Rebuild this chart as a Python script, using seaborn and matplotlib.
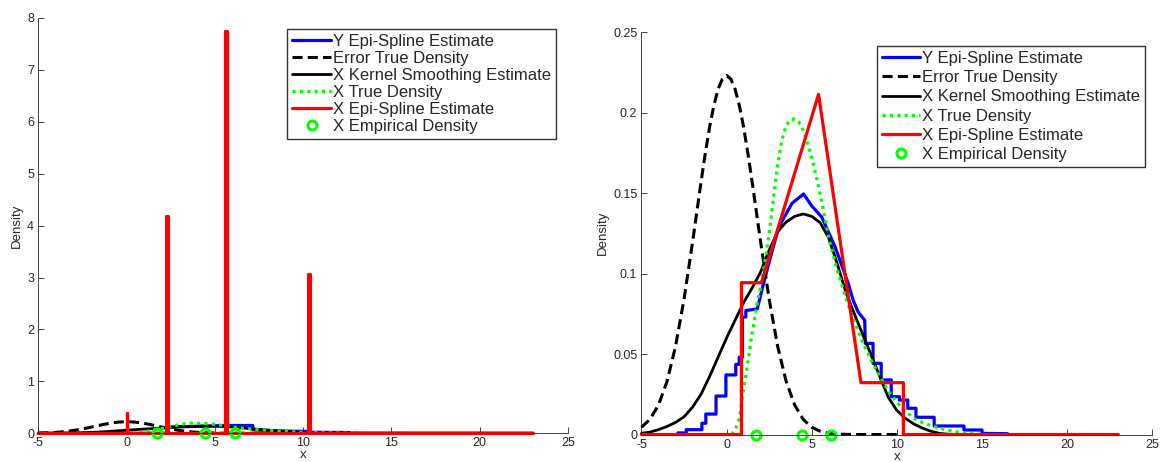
import numpy as np
import pandas as pd
import matplotlib
matplotlib.use("Agg")
import matplotlib.pyplot as plt
import seaborn as sns

# ---------------- data ----------------
x_ticks = [-5, 0, 5, 10, 15, 20, 25]
left_yticks = [0, 1, 2, 3, 4, 5, 6, 7, 8]
right_yticks = [0, 0.05, 0.1, 0.15, 0.2, 0.25]
right_ytick_labels = ["0", "0.05", "0.1", "0.15", "0.2", "0.25"]

labels = ["Y Epi-Spline Estimate", "Error True Density", "X Kernel Smoothing Estimate",
          "X True Density", "X Epi-Spline Estimate", "X Empirical Density"]

# Error true density (dashed black)
err_x = [-5, -4.5, -4, -3.5, -3, -2.5, -2, -1.5, -1.25, -1, -0.75, -0.5, -0.25, 0,
         0.25, 0.5, 0.75, 1, 1.25, 1.5, 2, 2.5, 3, 3.5, 4, 4.5, 5, 5.5, 6, 6.5, 7, 7.5,
         8, 8.5, 9, 9.5, 10]
err_y = [0.0045, 0.0094, 0.0183, 0.0329, 0.0547, 0.0840, 0.1194, 0.1569, 0.1747, 0.1908,
         0.2043, 0.2145, 0.2208, 0.2230, 0.2208, 0.2145, 0.2043, 0.1908, 0.1747, 0.1569,
         0.1194, 0.0840, 0.0547, 0.0329, 0.0183, 0.0094, 0.0045, 0.0020, 0.0008, 0.0003,
         0.0001, 0.0, 0.0, 0.0, 0.0, 0.0, 0.0]

# X kernel smoothing estimate (solid black)
ker_x = [-5, -4.5, -4, -3.5, -3, -2.5, -2, -1.5, -1, -0.5, 0, 0.5, 1, 1.5, 2, 2.5, 3, 3.5,
         4, 4.5, 5, 5.5, 6, 6.5, 7, 7.5, 8, 8.5, 9, 9.5, 10, 10.5, 11, 11.5, 12, 12.5, 13,
         13.5]
ker_y = [0.0007, 0.0015, 0.003, 0.005, 0.0075, 0.011, 0.017, 0.025, 0.036, 0.048, 0.060,
         0.071, 0.082, 0.091, 0.101, 0.1145, 0.126, 0.132, 0.1355, 0.137, 0.1355, 0.1315,
         0.122, 0.106, 0.0885, 0.075, 0.062, 0.049, 0.036, 0.023, 0.015, 0.010, 0.0065,
         0.004, 0.002, 0.0007, 0.0002, 0.0]

# X true density (green dotted)
tru_x = [0.3, 0.5, 0.75, 1.0, 1.25, 1.5, 1.75, 2.0, 2.25, 2.5, 2.75, 3.0, 3.25, 3.5, 3.75,
         4.0, 4.25, 4.5, 4.75, 5.0, 5.25, 5.5, 5.75, 6.0, 6.5, 7.0, 7.5, 8.0, 8.5, 9.0, 9.5,
         10.0, 10.5, 11.0, 11.5, 12.0, 12.5, 13.0, 13.5, 14.0, 14.5, 15.0]
tru_y = [0.0, 0.003, 0.010, 0.028, 0.045, 0.063, 0.079, 0.092, 0.107, 0.125, 0.147, 0.168,
         0.183, 0.192, 0.1955, 0.196, 0.194, 0.189, 0.181, 0.172, 0.161, 0.149, 0.136,
         0.122, 0.102, 0.085, 0.070, 0.057, 0.046, 0.036, 0.027, 0.020, 0.0145, 0.010,
         0.0075, 0.0055, 0.004, 0.0027, 0.0017, 0.0009, 0.0003, 0.0]

# Y epi-spline estimate, right panel (blue, stepped)
ye_x = [-2.86, -2.37, -2.37, -1.45, -1.45, -1.22, -1.22, -0.62, -0.62, -0.04, -0.04, 0.54,
        0.54, 0.74, 0.74, 0.93, 0.93, 1.13, 1.13, 1.80, 2.15, 2.6, 3.07, 3.84, 4.52, 5.0,
        5.59, 6.37, 7.14, 7.43, 7.73, 8.11, 8.15, 8.60, 8.60, 9.08, 9.08, 9.67, 9.67, 10.15,
        10.15, 10.64, 10.64, 11.12, 11.12, 12.19, 12.19, 13.94, 13.94, 15.0, 15.0, 16.5]
ye_y = [0.001, 0.001, 0.003, 0.003, 0.007, 0.007, 0.0127, 0.0127, 0.0239, 0.0239, 0.037,
        0.037, 0.0436, 0.0436, 0.048, 0.048, 0.073, 0.073, 0.077, 0.078, 0.093, 0.111, 0.129,
        0.1436, 0.1494, 0.142, 0.135, 0.1166, 0.094, 0.0835, 0.076, 0.071, 0.0566, 0.0566,
        0.0442, 0.0442, 0.0339, 0.0339, 0.0235, 0.0235, 0.0214, 0.0214, 0.0163, 0.0163,
        0.0107, 0.0107, 0.0053, 0.0053, 0.0028, 0.0028, 0.0007, 0.0005]

# Y epi-spline estimate, left panel (blue)
yl_x = [-5, 2.35, 2.35, 4.0, 5.5, 7.15, 7.15, 8.0, 10.4, 10.4, 12.6, 12.6, 23]
yl_y = [0, 0, 0.12, 0.135, 0.15, 0.15, 0.07, 0.05, 0.035, 0.02, 0.015, 0.005, 0.003]

# X epi-spline estimate, right panel (red)
xr_x = [-5, 0.87, 0.87, 2.05, 5.40, 7.89, 10.38, 10.38, 23]
xr_y = [0, 0, 0.0943, 0.0943, 0.2113, 0.0322, 0.0322, 0, 0]

# X epi-spline estimate, left panel (red spikes)
xl_x = [-5, 0.0, 0.0, 0.05, 0.05, 2.22, 2.22, 2.32, 2.32, 5.57, 5.57, 5.67, 5.67,
        10.30, 10.30, 10.38, 10.38, 23]
xl_y = [0, 0, 0.40, 0.40, 0, 0, 4.18, 4.18, 0, 0, 7.75, 7.75, 0, 0, 3.07, 3.07, 0, 0]

# X empirical density (green circles)
emp_x = [1.71, 4.44, 6.14]
emp_y = [0, 0, 0]

# ---------------- style ----------------
sns.set_style("ticks", {"xtick.direction": "in", "ytick.direction": "in",
                        "axes.edgecolor": "#262626"})
plt.rcParams["font.family"] = ["Liberation Sans", "DejaVu Sans"]
plt.rcParams["xtick.color"] = "#262626"
plt.rcParams["ytick.color"] = "#262626"

fig = plt.figure(figsize=(11.61, 4.62), dpi=100)
axL = fig.add_axes([0.033, 0.0621, 0.4562, 0.899])
axR = fig.add_axes([0.5525, 0.0595, 0.4400, 0.8712])

BLUE, RED, GREEN, BLACK = "#0000ff", "#ff0000", "#00ff00", "#000000"


def draw(ax, bx, by, rx, ry):
    common = dict(ax=ax, estimator=None, sort=False)
    sns.lineplot(data=pd.DataFrame({"x": bx, "y": by}), x="x", y="y", color=BLUE,
                 linewidth=2.3, label=labels[0], clip_on=False, **common)
    sns.lineplot(data=pd.DataFrame({"x": err_x, "y": err_y}), x="x", y="y", color=BLACK,
                 linewidth=2.2, linestyle=(0, (3.3, 1.7)), label=labels[1], clip_on=False,
                 **common)
    sns.lineplot(data=pd.DataFrame({"x": ker_x, "y": ker_y}), x="x", y="y", color=BLACK,
                 linewidth=2.0, label=labels[2], clip_on=False, **common)
    sns.lineplot(data=pd.DataFrame({"x": tru_x, "y": tru_y}), x="x", y="y", color=GREEN,
                 linewidth=2.3, linestyle=(0, (1, 1.3)), label=labels[3], clip_on=False,
                 **common)
    sns.lineplot(data=pd.DataFrame({"x": rx, "y": ry}), x="x", y="y", color=RED,
                 linewidth=2.3, label=labels[4], clip_on=False, **common)
    sns.lineplot(data=pd.DataFrame({"x": emp_x, "y": emp_y}), x="x", y="y", color=GREEN,
                 linestyle="none", marker="o", markersize=6.5, markerfacecolor="none",
                 markeredgecolor=GREEN, markeredgewidth=2.2, label=labels[5],
                 clip_on=False, **common)
    ax.set_xlim(-5, 25)
    ax.set_xticks(x_ticks)
    ax.set_xticklabels([str(t) for t in x_ticks])
    ax.set_xlabel("x", fontsize=9.5, labelpad=0)
    ax.set_ylabel("Density", fontsize=9.5, labelpad=3)
    ax.tick_params(labelsize=9, length=4, width=0.6, pad=3)
    for s in ("top", "right"):
        ax.spines[s].set_visible(False)
    for s in ("left", "bottom"):
        ax.spines[s].set_linewidth(0.6)


draw(axL, yl_x, yl_y, xl_x, xl_y)
axL.set_ylim(0, 8)
axL.set_yticks(left_yticks)
axL.set_yticklabels([str(t) for t in left_yticks])

draw(axR, ye_x, ye_y, xr_x, xr_y)
axR.set_ylim(0, 0.25)
axR.set_yticks(right_yticks)
axR.set_yticklabels(right_ytick_labels)

for ax, anchor, fs, ls in ((axL, (0.977, 0.9735), 12.0, 0.12),
                           (axR, (0.9855, 0.965), 12.0, 0.25)):
    h, l = ax.get_legend_handles_labels()
    leg = ax.legend(h, l, loc="upper right", bbox_to_anchor=anchor, borderaxespad=0,
                    fontsize=fs, frameon=True, fancybox=False, shadow=False,
                    handlelength=2.3, handletextpad=0.12, labelspacing=ls,
                    borderpad=0.3, framealpha=1)
    leg.get_frame().set_edgecolor("#333333")
    leg.get_frame().set_linewidth(1.0)

fig.savefig("out.png", dpi=100)
